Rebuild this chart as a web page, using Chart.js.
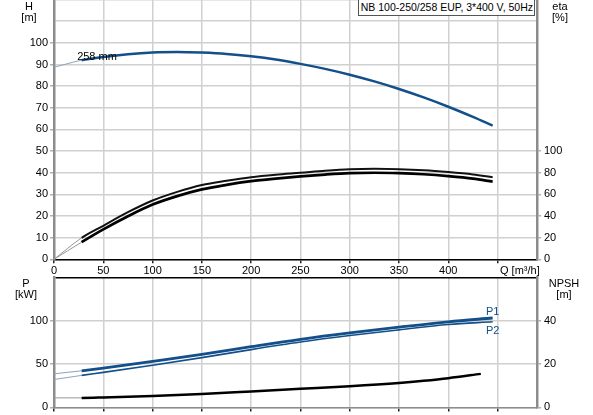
<!DOCTYPE html>
<html>
<head>
<meta charset="utf-8">
<script src="https://cdn.jsdelivr.net/npm/chart.js@4/dist/chart.umd.min.js"></script>
<style>
body { margin: 0; background: #fff; font-family: "Liberation Sans", Arial, sans-serif; }
#wrap { position: relative; width: 593px; height: 415px; overflow: hidden; }
canvas { position: absolute; left: 0; }
.lbl { position: absolute; font-size: 11px; color: #000; white-space: nowrap; transform: translate(-50%, -50%); }
.lft { position: absolute; font-size: 11px; white-space: nowrap; transform: translateY(-50%); }
#titleBox { position: absolute; right: 58px; top: -1px; height: 15px; border: 1px solid #555;
  background: #fff; font-size: 10.5px; line-height: 15px; padding: 0 1px 0 2px; white-space: nowrap; }
</style>
</head>
<body>
<div id="wrap">
  <canvas id="hChart" width="593" height="276" style="top:0"></canvas>
  <canvas id="pChart" width="593" height="145" style="top:270px"></canvas>
  <div class="lbl" style="left:29px;top:6px">H</div>
  <div class="lbl" style="left:29px;top:17px">[m]</div>
  <div class="lbl" style="left:560px;top:6px">eta</div>
  <div class="lbl" style="left:560px;top:17px">[%]</div>
  <div class="lbl" style="left:26px;top:283px">P</div>
  <div class="lbl" style="left:26px;top:294px">[kW]</div>
  <div class="lbl" style="left:564px;top:283px">NPSH</div>
  <div class="lbl" style="left:564px;top:294px">[m]</div>
  <div class="lft" style="left:500px;top:270px">Q [m³/h]</div>
  <div class="lbl" style="left:97px;top:56px">258 mm</div>
  <div class="lft" style="left:486px;top:311px;color:#134f8a">P1</div>
  <div class="lft" style="left:486px;top:330px;color:#134f8a">P2</div>
  <div id="titleBox">NB 100-250/258 EUP, 3*400 V, 50Hz</div>
</div>
<script>
// --- valeurs ---
const qH = [0, 28, 50, 75, 100, 125, 150, 175, 200, 225, 250, 275, 300, 325, 350, 375, 400, 425, 445];
const hauteur = [88.7, 92.0, 93.5, 94.8, 95.6, 95.8, 95.5, 94.9, 93.8, 92.3, 90.3, 88.0, 85.3, 82.2, 78.7, 74.8, 70.5, 65.8, 61.8];

const qEta = [0, 28, 50, 75, 100, 125, 150, 175, 200, 225, 250, 275, 300, 325, 350, 375, 400, 425, 445];
const etaPompe = [0, 19.8, 31.0, 43.5, 54.3, 62.3, 68.6, 72.6, 75.9, 78.2, 80.0, 81.9, 83.3, 83.7, 83.3, 82.3, 80.6, 78.4, 75.9];
const etaTotal = [0, 15.8, 27.6, 39.8, 50.6, 58.4, 64.6, 68.8, 72.2, 74.6, 76.6, 78.3, 79.6, 80.0, 79.6, 78.6, 76.9, 74.6, 71.8];

const qP = [0, 28, 50, 100, 150, 200, 250, 300, 350, 400, 445];
const puissanceP1 = [38.8, 42.3, 45.3, 53.2, 61.3, 70.2, 78.7, 86.1, 92.7, 98.9, 103.3];
const puissanceP2 = [32.2, 37.0, 40.5, 48.8, 57.5, 66.8, 75.5, 83.0, 89.6, 95.8, 99.0];

const qNpsh = [0, 28, 50, 100, 150, 200, 250, 300, 350, 375, 400, 433];
const npsh = [4.4, 4.4, 4.6, 5.3, 6.2, 7.4, 8.6, 9.8, 11.3, 12.3, 13.5, 15.5];

const qTicks = [0, 50, 100, 150, 200, 250, 300, 350, 400];

const BLEU = '#134f8a';
const GRILLE = '#d0d0d0';
const AXE = '#8c8c8c';
const fonte = { family: '"Liberation Sans", Arial, sans-serif', size: 11 };
const Q_DEBUT = 28; // avant ce point la courbe est tracée en trait fin

function points(xs, ys) {
    return xs.map((x, i) => ({ x: x, y: ys[i] }));
}

function courbe(label, xs, ys, axe, couleur, largeur, couleurFine) {
    return {
        label: label,
        data: points(xs, ys),
        yAxisID: axe,
        borderColor: couleur,
        borderWidth: largeur,
        pointRadius: 0,
        fill: false,
        cubicInterpolationMode: 'monotone',
        segment: {
            borderWidth: ctx => ctx.p0.parsed.x < Q_DEBUT ? 1 : largeur,
            borderColor: ctx => ctx.p0.parsed.x < Q_DEBUT ? couleurFine : couleur
        }
    };
}

function axeQ(avecLabels, hauteurAxe, bordure) {
    return {
        type: 'linear', min: 0, max: 490, position: 'bottom',
        ticks: {
            display: avecLabels, stepSize: 50, includeBounds: false, autoSkip: false, maxRotation: 0,
            color: '#000', font: fonte, padding: 1,
            callback: v => qTicks.includes(v) ? v : ''
        },
        grid: { color: GRILLE, lineWidth: 1.5, tickLength: 4, tickColor: '#222' },
        border: bordure,
        afterFit: s => { s.height = hauteurAxe; }
    };
}

function axeY(pos, max, pas, maxLabel, grilleVisible, couleurGrille) {
    return {
        type: 'linear', position: pos, min: 0, max: max,
        ticks: {
            stepSize: pas, color: '#000', font: fonte, padding: pos === 'left' ? 2 : 3,
            callback: v => v <= maxLabel ? v : ''
        },
        grid: {
            drawOnChartArea: grilleVisible,
            color: couleurGrille || GRILLE,
            lineWidth: 1.5,
            tickLength: 4,
            tickColor: ctx => ctx.tick && ctx.tick.value <= maxLabel ? '#b0b0b0' : 'rgba(0,0,0,0)'
        },
        border: { color: AXE, width: 2.5 },
        afterFit: s => { s.width = pos === 'left' ? 54 : 56; }
    };
}

// place la zone de tracé entre haut et bas (coordonnées de la page)
function caler(chart, haut, bas) {
    for (let i = 0; i < 2; i++) {
        const a = chart.chartArea.top;
        const marge = chart.height - chart.chartArea.bottom;
        chart.canvas.style.top = (haut - a) + 'px';
        chart.resize(593, Math.round(a + (bas - haut) + marge));
    }
}

const optionsCommunes = {
    responsive: false,
    maintainAspectRatio: false,
    animation: false,
    events: [],
    plugins: { legend: { display: false }, tooltip: { enabled: false } }
};

// Graphique du haut : H et rendement
const hChart = new Chart(document.getElementById('hChart'), {
    type: 'line',
    data: {
        datasets: [
            courbe('H', qH, hauteur, 'y', BLEU, 2.5, '#8ea3ba'),
            courbe('eta pompe', qEta, etaPompe, 'yEta', '#111', 2, '#999'),
            courbe('eta total', qEta, etaTotal, 'yEta', '#000', 2.7, '#999')
        ]
    },
    options: Object.assign({}, optionsCommunes, {
        layout: { padding: 0 },
        scales: {
            x: axeQ(true, 16.7, { color: '#000', width: 1.5 }),
            y: axeY('left', 120, 10, 100, true),
            yEta: axeY('right', 240, 20, 100, false)
        }
    })
});

// Graphique du bas : P1, P2 et NPSH
const pChart = new Chart(document.getElementById('pChart'), {
    type: 'line',
    data: {
        datasets: [
            courbe('P1', qP, puissanceP1, 'yP', BLEU, 2.8, '#8ea3ba'),
            courbe('P2', qP, puissanceP2, 'yP', BLEU, 1.6, '#8ea3ba'),
            courbe('NPSH', qNpsh, npsh, 'yN', '#000', 2.5, '#999')
        ]
    },
    options: Object.assign({}, optionsCommunes, {
        layout: { padding: 0 },
        scales: {
            x: axeQ(false, 8.3, { color: AXE, width: 1.5 }),
            yP: axeY('left', 150, 50, 100, true, ctx => ctx.tick && ctx.tick.value === 150 ? '#000' : GRILLE),
            yN: axeY('right', 60, 20, 40, false)
        }
    })
});

caler(hChart, 0, 259.3);
caler(pChart, 277.3, 406.7);
</script>
</body>
</html>
